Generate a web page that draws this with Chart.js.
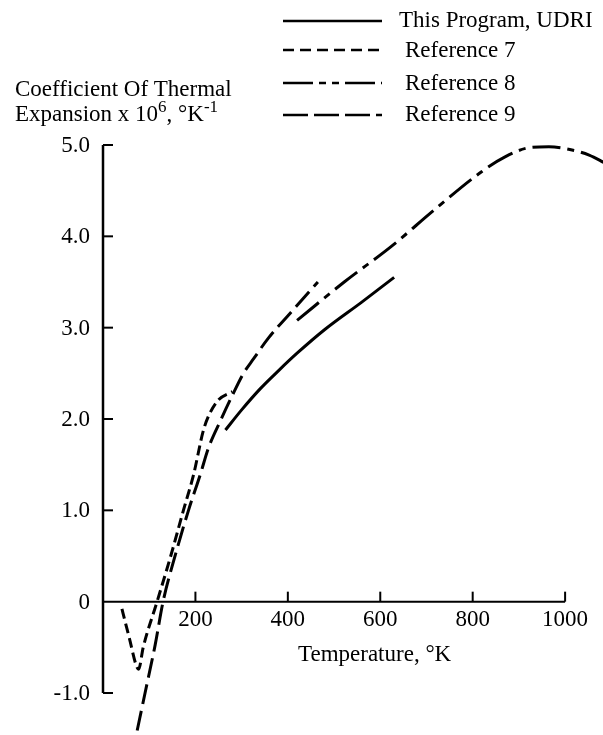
<!DOCTYPE html>
<html>
<head>
<meta charset="utf-8">
<script src="https://cdn.jsdelivr.net/npm/chart.js@4.4.1/dist/chart.umd.min.js"></script>
<style>
  html, body { margin: 0; padding: 0; background: #fff; }
  canvas { display: block; }
</style>
</head>
<body>
<canvas id="myChart" width="603" height="735"></canvas>
<script>
// values: temperature in K, coefficient x 1e6 per K
const udriT = [265, 300, 340, 380, 420, 480, 560, 630];
const udriY = [1.88, 2.10, 2.33, 2.53, 2.72, 2.98, 3.28, 3.55];

const ref7T = [41, 57, 72, 77, 87, 117, 146, 174, 196, 217, 230, 250, 280];
const ref7Y = [-0.08, -0.40, -0.70, -0.74, -0.50, 0, 0.49, 1.0, 1.39, 1.87, 2.05, 2.21, 2.30];

const ref8T = [420, 522, 624, 717, 820, 870, 922, 965, 1010, 1052, 1087];
const ref8Y = [3.08, 3.50, 3.89, 4.29, 4.71, 4.87, 4.97, 4.98, 4.95, 4.89, 4.80];

const ref9T = [74, 91, 113, 130, 157, 185, 211, 228, 254, 280, 304, 326, 357, 407, 465];
const ref9Y = [-1.41, -1.0, -0.47, 0, 0.52, 1.0, 1.40, 1.68, 1.98, 2.26, 2.50, 2.66, 2.88, 3.17, 3.50];

const seriesNames = ["This Program, UDRI", "Reference 7", "Reference 8", "Reference 9"];
const xTicks = [200, 400, 600, 800, 1000];
const xTickLabels = ["200", "400", "600", "800", "1000"];
const yTicks = [5, 4, 3, 2, 1, 0, -1];
const yTickLabels = ["5.0", "4.0", "3.0", "2.0", "1.0", "0", "-1.0"];

const dashes = [[], [10, 5], [28, 7, 7, 7], [20, 7]];
const legendDashes = [[], [11, 6], [30, 6, 7, 6, 7, 6], [25, 6]];
const FONT = "23px 'Liberation Serif', 'Times New Roman', serif";
const SUP_FONT = "17px 'Liberation Serif', 'Times New Roman', serif";

function toPoints(xs, ys) {
  return xs.map(function (x, i) { return { x: x, y: ys[i] }; });
}

const series = [
  toPoints(udriT, udriY),
  toPoints(ref7T, ref7Y),
  toPoints(ref8T, ref8Y),
  toPoints(ref9T, ref9Y),
];

// axes, ticks, labels and the legend, all placed through the chart scales
const decorations = {
  id: "decorations",
  afterDraw: function (chart) {
    const ctx = chart.ctx;
    const xs = chart.scales.x;
    const ys = chart.scales.y;
    const x0 = xs.getPixelForValue(0);
    const y0 = ys.getPixelForValue(0);

    ctx.save();
    ctx.strokeStyle = "#000";
    ctx.fillStyle = "#000";
    ctx.lineCap = "butt";

    // y axis
    ctx.lineWidth = 2.5;
    ctx.beginPath();
    ctx.moveTo(x0, ys.getPixelForValue(5));
    ctx.lineTo(x0, ys.getPixelForValue(-1));
    ctx.stroke();
    // x axis
    ctx.lineWidth = 2;
    ctx.beginPath();
    ctx.moveTo(x0, y0);
    ctx.lineTo(xs.getPixelForValue(1000), y0);
    ctx.stroke();

    // y ticks (pointing into the plot) and labels
    ctx.font = FONT;
    ctx.textAlign = "right";
    ctx.textBaseline = "middle";
    yTicks.forEach(function (v, i) {
      const py = ys.getPixelForValue(v);
      if (v !== 0) {
        ctx.lineWidth = 2;
        ctx.beginPath();
        ctx.moveTo(x0, py);
        ctx.lineTo(x0 + 10, py);
        ctx.stroke();
      }
      ctx.fillText(yTickLabels[i], x0 - 13, py + 1);
    });

    // x ticks (pointing up) and labels
    ctx.textAlign = "center";
    ctx.textBaseline = "top";
    xTicks.forEach(function (v, i) {
      const px = xs.getPixelForValue(v);
      ctx.lineWidth = 2;
      ctx.beginPath();
      ctx.moveTo(px, y0);
      ctx.lineTo(px, y0 - 10);
      ctx.stroke();
      ctx.fillText(xTickLabels[i], px, y0 + 7);
    });

    // x axis title
    ctx.textAlign = "left";
    ctx.textBaseline = "alphabetic";
    ctx.fillText("Temperature, \u00B0K", 298, 661);

    // y axis title, two lines with superscripts
    ctx.fillText("Coefficient Of Thermal", 15, 96);
    drawRich(ctx, 15, 121, [
      ["Expansion x 10", false],
      ["6", true],
      [", \u00B0K", false],
      ["-1", true],
    ]);

    // legend
    const rowsLine = [21, 50, 83, 115];
    const rowsText = [27, 57, 90, 121];
    const textX = [399, 405, 405, 405];
    seriesNames.forEach(function (name, i) {
      ctx.lineWidth = 2.5;
      ctx.setLineDash(legendDashes[i]);
      ctx.beginPath();
      ctx.moveTo(283, rowsLine[i]);
      ctx.lineTo(382, rowsLine[i]);
      ctx.stroke();
      ctx.setLineDash([]);
      ctx.textAlign = "left";
      ctx.fillText(name, textX[i], rowsText[i]);
    });
    ctx.restore();
  },
};

function drawRich(ctx, x, y, parts) {
  parts.forEach(function (p) {
    if (p[1]) {
      ctx.font = SUP_FONT;
      ctx.fillText(p[0], x, y - 9);
    } else {
      ctx.font = FONT;
      ctx.fillText(p[0], x, y);
    }
    x += ctx.measureText(p[0]).width;
  });
  ctx.font = FONT;
}

new Chart("myChart", {
  type: "line",
  data: {
    datasets: series.map(function (pts, i) {
      return {
        label: seriesNames[i],
        data: pts,
        borderColor: "#000",
        borderWidth: 3,
        borderDash: dashes[i],
        pointRadius: 0,
        fill: false,
        cubicInterpolationMode: "monotone",
        clip: false,
      };
    }),
  },
  options: {
    responsive: false,
    animation: false,
    layout: {
      padding: { left: 103, right: 0, top: 145, bottom: 42 },
    },
    scales: {
      x: { type: "linear", min: 0, max: 1082, display: false },
      y: { type: "linear", min: -1, max: 5, display: false },
    },
    plugins: {
      legend: { display: false },
      tooltip: { enabled: false },
    },
  },
  plugins: [decorations],
});
</script>
</body>
</html>
